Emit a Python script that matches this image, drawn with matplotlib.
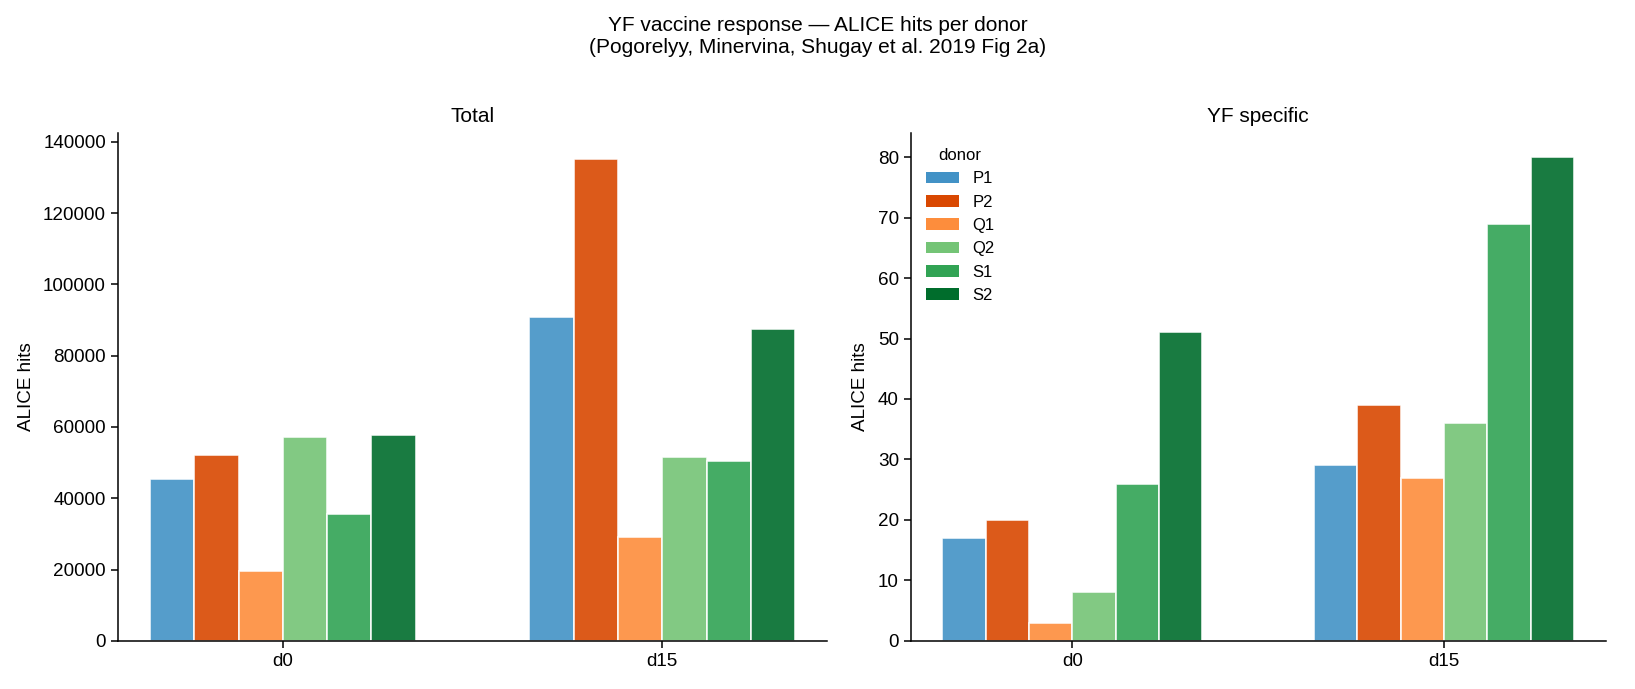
import numpy as np
import matplotlib.pyplot as plt

plt.rcParams['font.family'] = ['Liberation Sans', 'DejaVu Sans']

# data
days = ["d0", "d15"]
donors = ["P1", "P2", "Q1", "Q2", "S1", "S2"]
colors = ["#4292c6", "#d94801", "#fd8d3c", "#74c476", "#31a354", "#006d2c"]

total_d0 = [45400, 52100, 19600, 57100, 35700, 57700]
total_d15 = [90800, 135300, 29000, 51500, 50400, 87600]
yf_d0 = [17, 20, 3, 8, 26, 51]
yf_d15 = [29, 39, 27, 36, 69, 80]

fig = plt.figure(figsize=(16.35, 6.89), dpi=100)
ax1 = fig.add_axes([0.072, 0.070, 0.434, 0.737])
ax2 = fig.add_axes([0.557, 0.070, 0.425, 0.737])

def barras(ax, d0, d15, titulo):
    x = np.arange(len(days))
    w = 0.7 / len(donors)
    for i, name in enumerate(donors):
        off = (i - (len(donors) - 1) / 2) * w
        ax.bar(x + off, [d0[i], d15[i]], width=w, color=colors[i], alpha=0.9,
               edgecolor="white", linewidth=1.2, label=name)
    ax.set_xticks(x)
    ax.set_xticklabels(days)
    ax.set_ylabel("ALICE hits", fontsize=13.6, labelpad=6)
    ax.set_title(titulo, fontsize=15, pad=8)
    ax.spines["top"].set_visible(False)
    ax.spines["right"].set_visible(False)
    ax.spines["left"].set_linewidth(1.1)
    ax.spines["bottom"].set_linewidth(1.1)
    ax.tick_params(labelsize=13.6, width=1.1, length=5)

barras(ax1, total_d0, total_d15, "Total")
barras(ax2, yf_d0, yf_d15, "YF specific")
ax1.set_ylim(0, 142500)
ax2.set_ylim(0, 84)

leg = ax2.legend(title="donor", loc="upper left", frameon=False, fontsize=12,
                 title_fontsize=12, bbox_to_anchor=(0.0, 1.0))
for h in leg.legend_handles:
    h.set_alpha(1)
    h.set_edgecolor("none")

fig.suptitle("YF vaccine response \u2014 ALICE hits per donor\n(Pogorelyy, Minervina, Shugay et al. 2019 Fig 2a)",
             fontsize=15, y=0.977)

fig.savefig("out.png", dpi=100)
